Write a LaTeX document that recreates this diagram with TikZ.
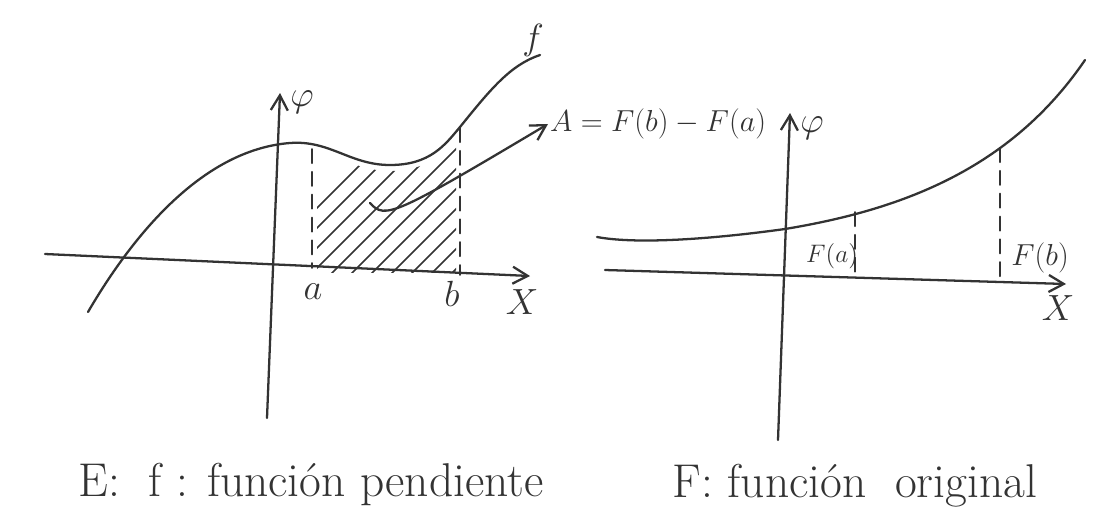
\documentclass[tikz,border=0pt]{standalone}
\usepackage{amsmath}
\usepackage{tikz}
\usetikzlibrary{arrows.meta}

\begin{document}
\begin{tikzpicture}[
    x=0.02cm, y=-0.02cm,
    font=\fontsize{20}{24}\selectfont,
    ink/.style={
        draw=black!80,
        line width=1.3pt,
        line cap=round
    },
    axis/.style={
        ink,
        -{Straight Barb[length=3mm,width=3.4mm]}
    },
    guide/.style={
        ink,
        line width=1.1pt,
        dash pattern=on 8pt off 5pt
    },
    hatch/.style={
        ink,
        line width=0.9pt
    },
    lbl/.style={
        inner sep=1pt,
        text=black!80
    },
    caption/.style={
        lbl,
        font=\fontsize{27}{32}\selectfont
    }
]
\useasboundingbox (0,0) rectangle (1094,521);

% left sketch: f
\coordinate (xl0) at (45,254);
\coordinate (xl1) at (530,276);
\coordinate (yl0) at (267,418);
\coordinate (yl1) at (280,93);
\draw[axis] (xl0) -- (xl1);
\draw[axis] (yl0) -- (yl1);
\node[lbl] (phil) at (302,102) {$\varphi$};
\node[lbl] (xlab) at (522,302) {$X$};
\node[lbl] (alab) at (313,292) {$a$};
\node[lbl] (blab) at (452,294) {$b$};
\node[lbl] (flab) at (533,40) {$f$};

\draw[ink] (88,312) .. controls (130,240) and (200,150) .. (290,143)
    .. controls (330,140) and (350,165) .. (390,165)
    .. controls (430,165) and (445,145) .. (460,127)
    .. controls (490,90) and (510,65) .. (540,55);

\draw[guide] (312,149) -- (312,268);
\draw[guide] (460,128) -- (460,275);

\begin{scope}
    \clip (317,120) rectangle (456,272);
    \clip (88,318) .. controls (130,246) and (200,156) .. (290,149)
        .. controls (330,146) and (350,171) .. (390,171)
        .. controls (430,171) and (445,151) .. (460,133)
        -- (540,133) -- (540,330) -- (88,330) -- cycle;
    \foreach \i in {0,...,12}
        \draw[hatch] (240+\i*20,285) -- ++(150,-150);
\end{scope}

\node[lbl, anchor=west, font=\fontsize{16.5}{20}\selectfont] (area) at (548,124) {$A = F(b) - F(a)$};
\coordinate (hook) at (370,203);
\draw[ink, -{Straight Barb[length=3mm,width=3.4mm]}] (hook)
    .. controls (385,220) and (395,215) .. (area.west);

% right sketch: F
\coordinate (xr0) at (605,270);
\coordinate (xr1) at (1066,284);
\coordinate (yr0) at (778,440);
\coordinate (yr1) at (790,113);
\draw[axis] (xr0) -- (xr1);
\draw[axis] (yr0) -- (yr1);
\node[lbl] (phir) at (812,128) {$\varphi$};
\node[lbl] (xlabr) at (1058,308) {$X$};

\draw[ink] (597,237) .. controls (640,245) and (720,238) .. (785,229)
    .. controls (900,210) and (1010,170) .. (1085,60);

\draw[guide] (855,212) -- (855,280);
\draw[guide] (1000,148) -- (1000,282);
\node[lbl, font=\fontsize{15}{18}\selectfont] (Fa) at (832,256) {$F(a)$};
\node[lbl, font=\fontsize{17}{20}\selectfont] (Fb) at (1040,258) {$F(b)$};

% captions
\node[caption] (capl) at (311,484) {E:\ \ f : función pendiente};
\node[caption] (capr) at (855,486) {F: función \ original};
\end{tikzpicture}
\end{document}
